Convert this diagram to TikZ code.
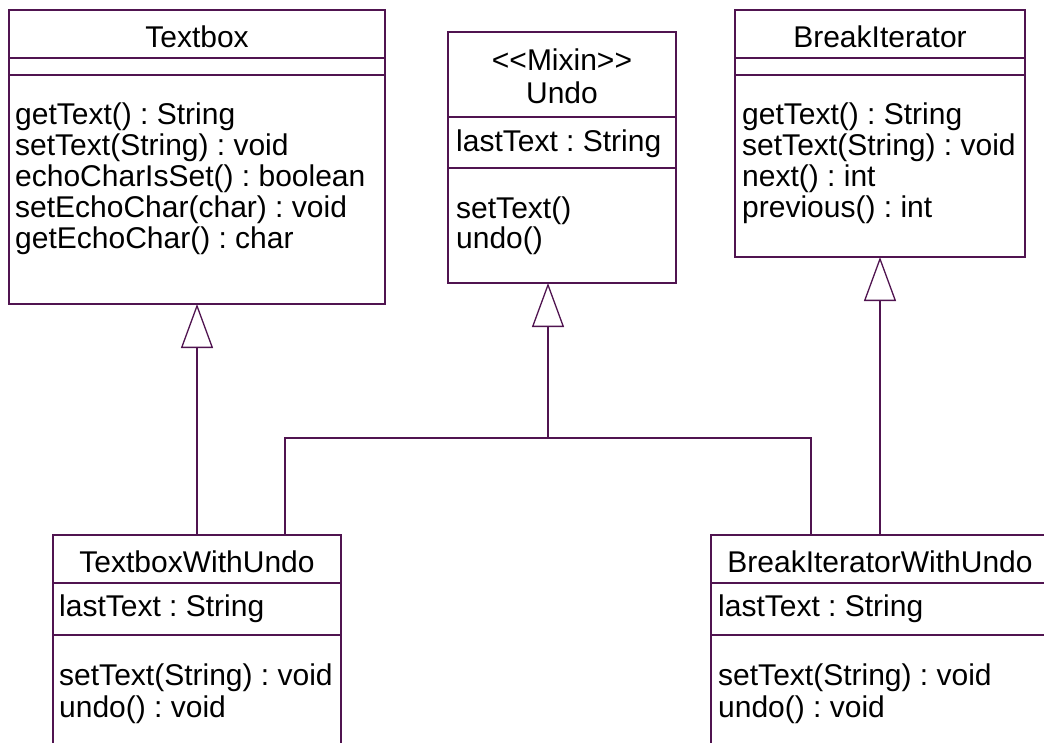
\documentclass[tikz,border=0pt]{standalone}
\usepackage{fontspec}
\setmainfont{Liberation Sans}
\usetikzlibrary{arrows.meta}
\definecolor{umlline}{RGB}{80,20,80}
\frenchspacing
\begin{document}
\begin{tikzpicture}[x=1pt,y=-1pt,
  cls/.style={draw=umlline, line width=1.3pt, anchor=north west, inner sep=0pt, outer sep=0pt},
  txt/.style={anchor=base west, inner sep=0pt, font=\fontsize{30}{31}\selectfont\frenchspacing},
  ttl/.style={anchor=base, inner sep=0pt, font=\fontsize{30}{31}\selectfont\frenchspacing},
  sepline/.style={draw=umlline, line width=1.3pt},
  conn/.style={draw=umlline, line width=1.3pt},
  inh/.style={draw=umlline, line width=1.3pt, -{Triangle[width=32pt,length=44pt,fill=white]}}]
\useasboundingbox (0,0) rectangle (1044,742);
\clip (0,0) rectangle (1044,742);

% class boxes
\node[cls, minimum width=376pt, minimum height=294pt] (tb) at (9,10) {};
\node[cls, minimum width=228pt, minimum height=251pt] (undo) at (448,32) {};
\node[cls, minimum width=290pt, minimum height=247pt] (bi) at (735,10) {};
\node[cls, minimum width=288pt, minimum height=240pt] (twu) at (53,535) {};
\node[cls, minimum width=338pt, minimum height=240pt] (biwu) at (711,535) {};

% compartments
\draw[sepline] (tb.west |- 0,58) -- (tb.east |- 0,58);
\draw[sepline] (tb.west |- 0,75) -- (tb.east |- 0,75);
\draw[sepline] (undo.west |- 0,117) -- (undo.east |- 0,117);
\draw[sepline] (undo.west |- 0,168) -- (undo.east |- 0,168);
\draw[sepline] (bi.west |- 0,58) -- (bi.east |- 0,58);
\draw[sepline] (bi.west |- 0,75) -- (bi.east |- 0,75);
\draw[sepline] (twu.west |- 0,583) -- (twu.east |- 0,583);
\draw[sepline] (twu.west |- 0,635) -- (twu.east |- 0,635);
\draw[sepline] (biwu.west |- 0,583) -- (biwu.east |- 0,583);
\draw[sepline] (biwu.west |- 0,635) -- (biwu.east |- 0,635);

% Textbox
\node[ttl] (tbn) at (197,47) {Textbox};
\node[txt] (tb1) at (15,124) {getText() : String};
\node[txt] (tb2) at (15,155) {setText(String) : void};
\node[txt] (tb3) at (15,186) {echoCharIsSet() : boolean};
\node[txt] (tb4) at (15,217) {setEchoChar(char) : void};
\node[txt] (tb5) at (15,248) {getEchoChar() : char};

% Undo
\node[ttl] (un0) at (562,70) {<\kern0pt<Mixin>\kern0pt>};
\node[ttl] (unn) at (562,103) {Undo};
\node[txt] (un1) at (456,151) {lastText : String};
\node[txt] (un2) at (456,218) {setText()};
\node[txt] (un3) at (456,248) {undo()};

% BreakIterator
\node[ttl] (bin) at (880,47) {BreakIterator};
\node[txt] (bi1) at (742,124) {getText() : String};
\node[txt] (bi2) at (742,155) {setText(String) : void};
\node[txt] (bi3) at (742,186) {next() : int};
\node[txt] (bi4) at (742,217) {previous() : int};

% TextboxWithUndo
\node[ttl] (twun) at (197,572) {TextboxWithUndo};
\node[txt] (twu1) at (59,616) {lastText : String};
\node[txt] (twu2) at (59,685) {setText(String) : void};
\node[txt] (twu3) at (59,717) {undo() : void};

% BreakIteratorWithUndo
\node[ttl] (biwun) at (880,572) {BreakIteratorWithUndo};
\node[txt] (biwu1) at (718,616) {lastText : String};
\node[txt] (biwu2) at (718,685) {setText(String) : void};
\node[txt] (biwu3) at (718,717) {undo() : void};

% connectors
\coordinate (j) at (548,438);
\coordinate (jl) at (285,438);
\coordinate (jr) at (811,438);
\draw[inh] (twu.north) -- (tb.south);
\draw[inh] (biwu.north) -- (bi.south);
\draw[inh] (j) -- (j |- undo.south);
\draw[conn] (jl |- twu.north) -- (jl) -- (jr) -- (jr |- biwu.north);
\end{tikzpicture}
\end{document}
